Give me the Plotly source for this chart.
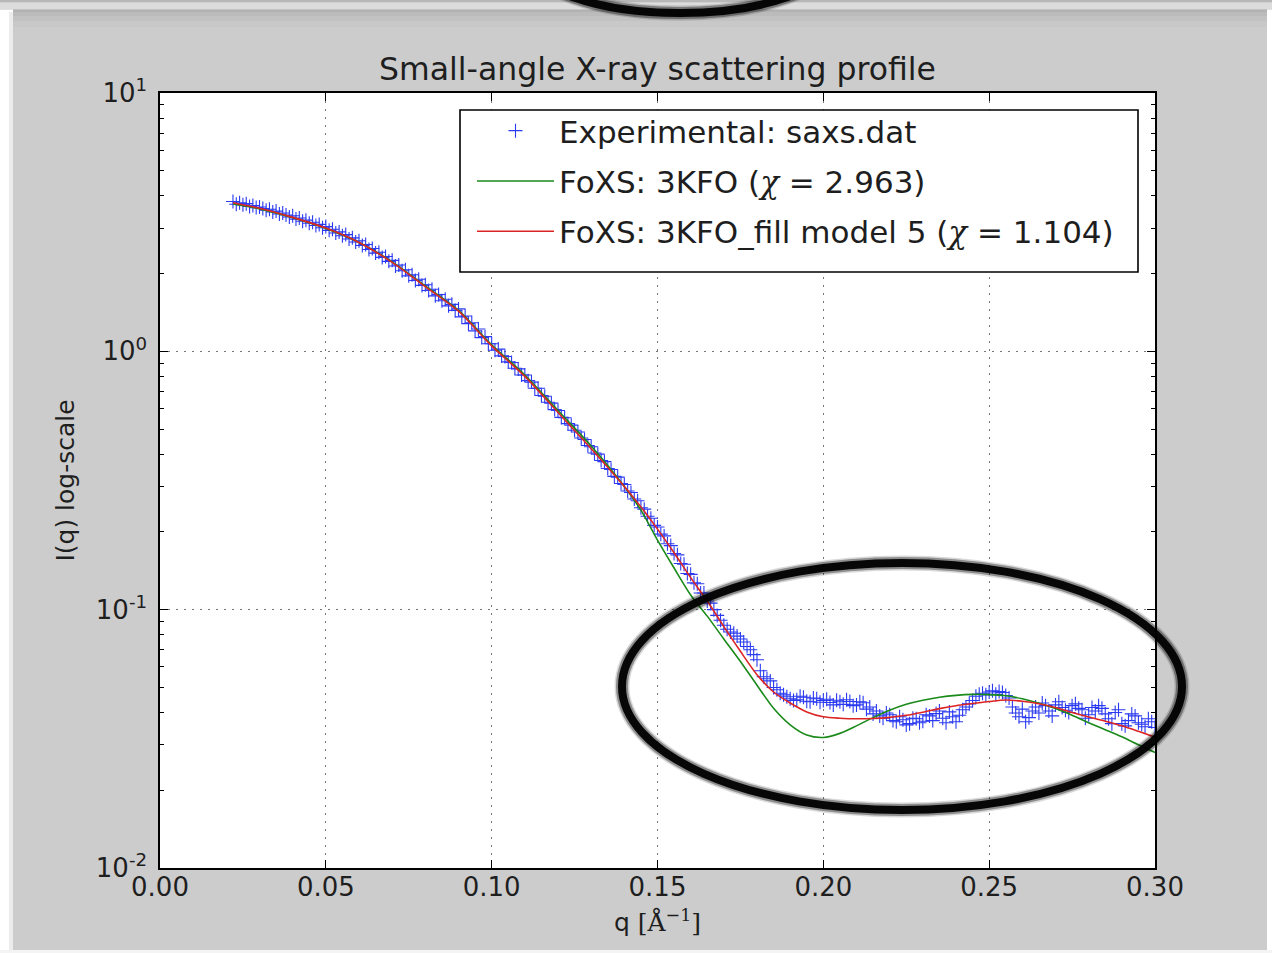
import plotly.graph_objects as go

# ---------------- data ----------------
q_exp = [
    0.022, 0.023, 0.024, 0.025, 0.026, 0.027, 0.028, 0.029, 0.030, 0.031,
    0.032, 0.033, 0.034, 0.035, 0.036, 0.037, 0.038, 0.039, 0.040, 0.041,
    0.042, 0.043, 0.044, 0.045, 0.046, 0.047, 0.048, 0.049, 0.050, 0.051,
    0.052, 0.053, 0.054, 0.055, 0.056, 0.057, 0.058, 0.059, 0.060, 0.061,
    0.062, 0.063, 0.064, 0.065, 0.066, 0.067, 0.068, 0.069, 0.070, 0.071,
    0.072, 0.073, 0.074, 0.075, 0.076, 0.077, 0.078, 0.079, 0.080, 0.081,
    0.082, 0.083, 0.084, 0.085, 0.086, 0.087, 0.088, 0.089, 0.090, 0.091,
    0.092, 0.093, 0.094, 0.095, 0.096, 0.097, 0.098, 0.099, 0.100, 0.101,
    0.102, 0.103, 0.104, 0.105, 0.106, 0.107, 0.108, 0.109, 0.110, 0.111,
    0.112, 0.113, 0.114, 0.115, 0.116, 0.117, 0.118, 0.119, 0.120, 0.121,
    0.122, 0.123, 0.124, 0.125, 0.126, 0.127, 0.128, 0.129, 0.130, 0.131,
    0.132, 0.133, 0.134, 0.135, 0.136, 0.137, 0.138, 0.139, 0.140, 0.141,
    0.142, 0.143, 0.144, 0.145, 0.146, 0.147, 0.148, 0.149, 0.150, 0.151,
    0.152, 0.153, 0.154, 0.155, 0.156, 0.157, 0.158, 0.159, 0.160, 0.161,
    0.162, 0.163, 0.164, 0.165, 0.166, 0.167, 0.168, 0.169, 0.170, 0.171,
    0.172, 0.173, 0.174, 0.175, 0.176, 0.177, 0.178, 0.179, 0.180, 0.181,
    0.182, 0.183, 0.184, 0.185, 0.186, 0.187, 0.188, 0.189, 0.190, 0.191,
    0.192, 0.193, 0.194, 0.195, 0.196, 0.197, 0.198, 0.199, 0.200, 0.201,
    0.202, 0.203, 0.204, 0.205, 0.206, 0.207, 0.208, 0.209, 0.210, 0.211,
    0.212, 0.213, 0.214, 0.215, 0.216, 0.217, 0.218, 0.219, 0.220, 0.221,
    0.222, 0.223, 0.224, 0.225, 0.226, 0.227, 0.228, 0.229, 0.230, 0.231,
    0.232, 0.233, 0.234, 0.235, 0.236, 0.237, 0.238, 0.239, 0.240, 0.241,
    0.242, 0.243, 0.244, 0.245, 0.246, 0.247, 0.248, 0.249, 0.250, 0.251,
    0.252, 0.253, 0.254, 0.255, 0.256, 0.257, 0.258, 0.259, 0.260, 0.261,
    0.262, 0.263, 0.264, 0.265, 0.266, 0.267, 0.268, 0.269, 0.270, 0.271,
    0.272, 0.273, 0.274, 0.275, 0.276, 0.277, 0.278, 0.279, 0.280, 0.281,
    0.282, 0.283, 0.284, 0.285, 0.286, 0.287, 0.288, 0.289, 0.290, 0.291,
    0.292, 0.293, 0.294, 0.295, 0.296, 0.297, 0.298, 0.299, 0.300,
]
I_exp = [
    3.80, 3.71, 3.76, 3.69, 3.73, 3.64, 3.67, 3.60, 3.62, 3.57,
    3.52, 3.55, 3.46, 3.49, 3.40, 3.43, 3.37, 3.31, 3.35, 3.25,
    3.28, 3.19, 3.22, 3.13, 3.16, 3.07, 3.10, 3.01, 3.04, 2.94,
    2.97, 2.87, 2.90, 2.80, 2.83, 2.72, 2.75, 2.65, 2.68, 2.57,
    2.59, 2.48, 2.50, 2.40, 2.42, 2.31, 2.33, 2.23, 2.25, 2.14,
    2.16, 2.05, 2.07, 1.96, 1.98, 1.88, 1.90, 1.80, 1.81, 1.72,
    1.74, 1.64, 1.66, 1.57, 1.59, 1.50, 1.52, 1.44, 1.46, 1.36,
    1.37, 1.28, 1.29, 1.20, 1.22, 1.13, 1.14, 1.07, 1.07, 1.01,
    1.02, 0.96, 0.955, 0.91, 0.905, 0.86, 0.855, 0.81, 0.81, 0.77,
    0.76, 0.72, 0.72, 0.675, 0.67, 0.635, 0.63, 0.595, 0.59, 0.555,
    0.553, 0.525, 0.518, 0.495, 0.487, 0.462, 0.456, 0.432, 0.427, 0.404,
    0.400, 0.378, 0.374, 0.352, 0.349, 0.328, 0.326, 0.308, 0.305, 0.288,
    0.284, 0.268, 0.264, 0.248, 0.245, 0.230, 0.226, 0.212, 0.209, 0.196,
    0.193, 0.180, 0.177, 0.165, 0.163, 0.151, 0.150, 0.138, 0.137, 0.127,
    0.126, 0.116, 0.116, 0.108, 0.106, 0.100, 0.095, 0.091, 0.087, 0.084,
    0.082, 0.081, 0.079, 0.077, 0.075, 0.072, 0.070, 0.067, 0.064, 0.058,
    0.055, 0.054, 0.053, 0.050, 0.049, 0.0475, 0.0468, 0.0460, 0.0452, 0.0445,
    0.0448, 0.0462, 0.0458, 0.0442, 0.0440, 0.0455, 0.0452, 0.0438, 0.0445, 0.0450,
    0.0437, 0.0428, 0.0446, 0.0440, 0.0430, 0.0448, 0.0441, 0.0425, 0.0428, 0.0440,
    0.0436, 0.0412, 0.0420, 0.0395, 0.0405, 0.0388, 0.0380, 0.0398, 0.0392, 0.0372,
    0.0368, 0.0385, 0.0375, 0.0358, 0.0362, 0.0380, 0.0378, 0.0365, 0.0370, 0.0392,
    0.0388, 0.0372, 0.0396, 0.0405, 0.0380, 0.0365, 0.0402, 0.0385, 0.0368, 0.0390,
    0.0410, 0.0420, 0.0432, 0.0445, 0.0462, 0.0470, 0.0475, 0.0468, 0.0480, 0.0485,
    0.0470, 0.0482, 0.0478, 0.0465, 0.0455, 0.0420, 0.0398, 0.0385, 0.0412, 0.0368,
    0.0382, 0.0405, 0.0420, 0.0398, 0.0435, 0.0425, 0.0405, 0.0388, 0.0428, 0.0440,
    0.0418, 0.0408, 0.0400, 0.0425, 0.0432, 0.0415, 0.0410, 0.0380, 0.0392, 0.0418,
    0.0405, 0.0425, 0.0415, 0.0395, 0.0378, 0.0362, 0.0400, 0.0410, 0.0362, 0.0355,
    0.0372, 0.0395, 0.0388, 0.0365, 0.0360, 0.0352, 0.0378, 0.0368, 0.0350,
]

q_model = [0.022, 0.030, 0.040, 0.050, 0.060, 0.070, 0.080, 0.090, 0.100, 0.110,
           0.120, 0.130, 0.140, 0.145, 0.150, 0.155, 0.160, 0.165, 0.170, 0.175,
           0.180, 0.185, 0.190, 0.195, 0.200, 0.205, 0.210, 0.215, 0.220, 0.225,
           0.230, 0.235, 0.240, 0.245, 0.250, 0.255, 0.260, 0.265, 0.270, 0.275,
           0.280, 0.285, 0.290, 0.295, 0.300]
I_foxs_3kfo = [3.72, 3.56, 3.29, 2.99, 2.64, 2.22, 1.79, 1.44, 1.06, 0.81,
               0.59, 0.43, 0.30, 0.243, 0.186, 0.145, 0.114, 0.0944, 0.077, 0.063,
               0.051, 0.0415, 0.0358, 0.0327, 0.0320, 0.0332, 0.0355, 0.0382, 0.0408, 0.0430,
               0.0446, 0.0458, 0.0466, 0.0470, 0.0469, 0.0464, 0.0452, 0.0434, 0.0414, 0.0390,
               0.0365, 0.0343, 0.0322, 0.0300, 0.0280]
I_foxs_fill = [3.76, 3.58, 3.30, 3.00, 2.64, 2.21, 1.78, 1.43, 1.05, 0.80,
               0.58, 0.42, 0.30, 0.250, 0.205, 0.166, 0.133, 0.108, 0.086, 0.069,
               0.056, 0.048, 0.0435, 0.0402, 0.0385, 0.0380, 0.0378, 0.0379, 0.0383, 0.0390,
               0.0401, 0.0414, 0.0425, 0.0433, 0.0441, 0.0447, 0.0442, 0.0432, 0.0418, 0.0400,
               0.0384, 0.0370, 0.0355, 0.0338, 0.0321]

x_ticks = [0.0, 0.05, 0.10, 0.15, 0.20, 0.25, 0.30]
x_tick_labels = ["0.00", "0.05", "0.10", "0.15", "0.20", "0.25", "0.30"]
y_ticks = [0.01, 0.1, 1, 10]
y_tick_labels = ["10<sup>-2</sup>", "10<sup>-1</sup>", "10<sup>0</sup>", "10<sup>1</sup>"]
y_minor = [m * d for d in (0.01, 0.1, 1) for m in range(2, 10)]

CHI = "<span style='font-family:DejaVu Serif'><i>χ</i></span>"
legend_names = [
    "Experimental: saxs.dat",
    "FoXS: 3KFO (" + CHI + " = 2.963)",
    "FoXS: 3KFO_fill model 5 (" + CHI + " = 1.104)",
]

# ---------------- layout geometry ----------------
W, H = 1272, 953
L, R, T, B = 160, 1155, 93, 868
FONT = "DejaVu Sans"
PANEL = "#cccccc"
TXT = "#1e1e1e"


def px(xp):
    return (xp - L) / (R - L)


def py(yp):
    return (B - yp) / (B - T)


fig = go.Figure()
fig.add_trace(go.Scatter(
    x=q_exp, y=I_exp, mode="markers", name=legend_names[0], legendgroup="a",
    marker=dict(symbol="cross-thin", size=10, color="#2a3af0",
                line=dict(color="#2a3af0", width=1.1)),
))
fig.add_trace(go.Scatter(
    x=q_model, y=I_foxs_3kfo, mode="lines", name=legend_names[1], legendgroup="b",
    line=dict(color="#1a8a1a", width=1.6, shape="spline", smoothing=0.8),
))
fig.add_trace(go.Scatter(
    x=q_model, y=I_foxs_fill, mode="lines", name=legend_names[2], legendgroup="c",
    line=dict(color="#dd2424", width=1.6, shape="spline", smoothing=0.8),
))

shapes = []


def rect(x0, y0, x1, y1, color, layer="below", line=None):
    shapes.append(dict(type="rect", xref="paper", yref="paper",
                       x0=px(x0), x1=px(x1), y0=py(y1), y1=py(y0),
                       fillcolor=color, line=line or dict(width=0), layer=layer))


# outer white margins and top shadow strip
rect(0, 0, W, 2.5, "#b8b8b8")
rect(0, 2.5, W, 9.5, "#dcdcdc")
rect(0, 9.5, W, 12, "#b2b2b2")
rect(13, 12, 1267, 16, "#bbbbbb")
rect(13, 16, 1267, 21, "#c2c2c2")
rect(13, 21, 1267, 27, "#c8c8c8")
rect(0, 9.5, 13, H, "#ffffff")
rect(9, 12, 13, 950, "#ececec")
rect(1267, 9.5, W, H, "#ffffff")
rect(0, 950, W, H, "#f4f4f4")

# legend frame (the legend itself is drawn transparent on top of it)
rect(460, 110, 1138, 272, "white", layer="above", line=dict(color="black", width=1.6))


def ellipse(x0, y0, x1, y1):
    for w, c in ((15, "rgba(0,0,0,0.15)"), (12, "rgba(0,0,0,0.35)"), (8, "rgba(0,0,0,0.95)")):
        shapes.append(dict(type="circle", xref="paper", yref="paper",
                           x0=px(x0), x1=px(x1), y0=py(y1), y1=py(y0),
                           line=dict(color=c, width=w), fillcolor="rgba(0,0,0,0)",
                           layer="above"))


ellipse(622, 563, 1182, 810)
ellipse(530, -93, 830, 13)

axis_common = dict(
    showline=True, linecolor="black", linewidth=1.5, mirror="allticks",
    ticks="inside", ticklen=8, tickwidth=1, tickcolor="black",
    showgrid=True, gridcolor="#777777", griddash="2px,6px", gridwidth=1,
    zeroline=False,
    tickfont=dict(family=FONT, size=26, color=TXT),
)

fig.update_layout(
    width=W, height=H,
    margin=dict(l=L, r=W - R, t=T, b=H - B, autoexpand=False),
    paper_bgcolor=PANEL, plot_bgcolor="white",
    font=dict(family=FONT, color=TXT),
    title=dict(text="Small-angle X-ray scattering profile",
               font=dict(family=FONT, size=31.5, color=TXT),
               x=(L + R) / 2 / W, xanchor="center",
               y=1 - 69 / H, yanchor="middle", xref="container", yref="container"),
    xaxis=dict(range=[0, 0.30], tickvals=x_ticks, ticktext=x_tick_labels,
               ticklabelstandoff=-5,
               title=dict(text="q <span style='font-family:DejaVu Serif'>[Å<sup>−1</sup>]</span>",
                          font=dict(family=FONT, size=25, color=TXT), standoff=13),
               **axis_common),
    yaxis=dict(type="log", range=[-2, 1], tickvals=y_ticks, ticktext=y_tick_labels,
               ticklabelstandoff=6,
               minor=dict(tickvals=y_minor, ticks="inside", ticklen=4, tickcolor="black",
                          showgrid=False),
               title=dict(text="I(q) log-scale",
                          font=dict(family=FONT, size=25, color=TXT), standoff=14),
               **axis_common),
    legend=dict(x=px(472), y=py(104), xanchor="left", yanchor="top",
                bgcolor="rgba(0,0,0,0)", borderwidth=0,
                font=dict(family=FONT, size=31, color=TXT),
                itemwidth=77, traceorder="grouped", tracegroupgap=7),
    shapes=shapes,
    showlegend=True,
)

fig.write_html("out.html")
